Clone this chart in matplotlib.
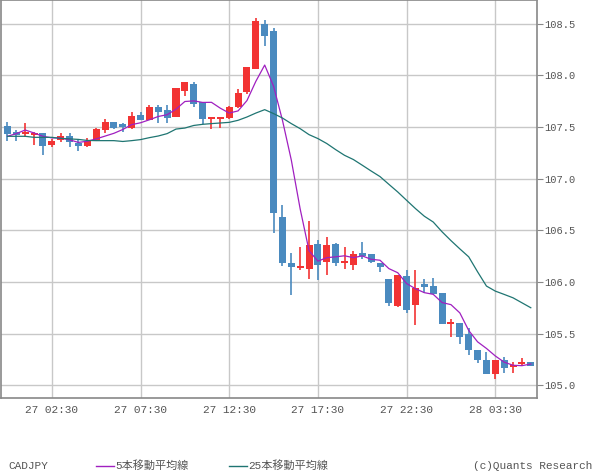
import matplotlib.pyplot as plt
from matplotlib.lines import Line2D
import numpy as np

plt.rcParams['font.family'] = ['Liberation Mono', 'Noto Sans CJK JP', 'DejaVu Sans']

# 30分足 CADJPY 27 00:00 - 28 05:30
opens = [107.507, 107.45, 107.435, 107.42, 107.44, 107.323, 107.37, 107.41, 107.345, 107.316,
         107.371, 107.468, 107.545, 107.526, 107.487, 107.613, 107.565, 107.69, 107.66, 107.594,
         107.848, 107.913, 107.746, 107.58, 107.58, 107.584, 107.694, 107.838, 108.061, 108.493,
         108.425, 106.627, 106.182, 106.132, 106.127, 106.366, 106.195, 106.366, 106.18, 106.166,
         106.278, 106.268, 106.18, 106.027, 105.765, 106.056, 105.775, 105.98, 105.96, 105.892,
         105.59, 105.60, 105.50, 105.343, 105.246, 105.11, 105.246, 105.18, 105.21, 105.224]
highs = [107.545, 107.468, 107.535, 107.45, 107.44, 107.38, 107.44, 107.44, 107.371, 107.39,
         107.487, 107.574, 107.545, 107.535, 107.642, 107.642, 107.71, 107.71, 107.71, 107.874,
         107.932, 107.932, 107.746, 107.60, 107.60, 107.707, 107.865, 108.077, 108.551, 108.54,
         108.462, 106.743, 106.279, 106.336, 106.588, 106.404, 106.433, 106.375, 106.337, 106.30,
         106.385, 106.268, 106.18, 106.027, 106.066, 106.114, 106.12, 106.027, 106.037, 105.892,
         105.64, 105.60, 105.556, 105.343, 105.324, 105.246, 105.275, 105.227, 105.265, 105.224]
lows = [107.365, 107.365, 107.40, 107.33, 107.226, 107.31, 107.355, 107.307, 107.268, 107.307,
        107.365, 107.442, 107.478, 107.452, 107.48, 107.565, 107.565, 107.535, 107.535, 107.594,
        107.80, 107.693, 107.526, 107.48, 107.49, 107.578, 107.684, 107.823, 108.061, 108.283,
        106.469, 106.153, 105.872, 106.114, 106.027, 106.017, 106.07, 106.156, 106.124, 106.117,
        106.22, 106.18, 106.095, 105.765, 105.755, 105.698, 105.58, 105.895, 105.885, 105.595,
        105.469, 105.40, 105.295, 105.217, 105.11, 105.063, 105.12, 105.12, 105.19, 105.19]
closes = [107.432, 107.42, 107.44, 107.44, 107.316, 107.36, 107.41, 107.355, 107.316, 107.368,
          107.478, 107.545, 107.487, 107.504, 107.603, 107.565, 107.69, 107.65, 107.587, 107.874,
          107.932, 107.722, 107.577, 107.59, 107.59, 107.697, 107.826, 108.077, 108.522, 108.38,
          106.668, 106.185, 106.146, 106.153, 106.356, 106.166, 106.356, 106.185, 106.20, 106.27,
          106.249, 106.19, 106.143, 105.795, 106.066, 105.727, 105.94, 105.95, 105.885, 105.595,
          105.61, 105.469, 105.343, 105.246, 105.11, 105.246, 105.17, 105.195, 105.225, 105.19]

ma5 = [107.41, 107.436, 107.471, 107.442, 107.41, 107.395, 107.393, 107.376, 107.351, 107.362,
       107.385, 107.412, 107.439, 107.476, 107.523, 107.541, 107.57, 107.602, 107.619, 107.673,
       107.747, 107.753, 107.738, 107.739, 107.682, 107.635, 107.656, 107.756, 107.942, 108.10,
       107.895, 107.566, 107.18, 106.706, 106.302, 106.201, 106.235, 106.243, 106.253, 106.235,
       106.252, 106.219, 106.21, 106.129, 106.089, 105.984, 105.934, 105.896, 105.88, 105.80,
       105.78, 105.70, 105.53, 105.42, 105.356, 105.283, 105.223, 105.193, 105.189, 105.205]
ma25 = [107.41, 107.41, 107.41, 107.40, 107.40, 107.40, 107.39, 107.385, 107.38, 107.37,
        107.368, 107.368, 107.368, 107.36, 107.368, 107.378, 107.397, 107.413, 107.436, 107.48,
        107.49, 107.515, 107.526, 107.533, 107.539, 107.545, 107.565, 107.597, 107.635, 107.668,
        107.63, 107.587, 107.533, 107.484, 107.426, 107.388, 107.34, 107.281, 107.226, 107.185,
        107.13, 107.074, 107.02, 106.945, 106.871, 106.79, 106.71, 106.636, 106.58, 106.485,
        106.40, 106.32, 106.243, 106.098, 105.96, 105.911, 105.879, 105.846, 105.798, 105.75]

xtick_pos = [5, 15, 25, 35, 45, 55]
xtick_labels = ['27 02:30', '27 07:30', '27 12:30', '27 17:30', '27 22:30', '28 03:30']
yticks = [105.0, 105.5, 106.0, 106.5, 107.0, 107.5, 108.0, 108.5]

up_col = '#f23333'
down_col = '#4a8abf'
ma5_col = '#a020c0'
ma25_col = '#1f7572'
txt_col = '#555555'

fig = plt.figure(figsize=(6, 4.75), dpi=100)
ax = fig.add_axes([1 / 600, 1 - 398 / 475, 536 / 600, 397.5 / 475])

x = np.arange(len(closes))
o = np.array(opens)
c = np.array(closes)
colors = [up_col if cc >= oo else down_col for oo, cc in zip(o, c)]
bottoms = np.minimum(o, c)
heights = np.maximum(np.abs(c - o), 0.015)

ax.vlines(x, lows, highs, colors=colors, linewidth=1.2, zorder=3)
ax.bar(x, heights, bottom=bottoms, width=0.79, color=colors, linewidth=0, zorder=4)

ax.plot(x, ma5, color=ma5_col, linewidth=0.9, zorder=5)
ax.plot(x, ma25, color=ma25_col, linewidth=0.9, zorder=5)

ax.set_xlim(-0.73, 59.7)
ax.set_ylim(104.876, 108.725)
ax.set_xticks(xtick_pos)
ax.set_xticklabels(xtick_labels)
ax.set_yticks(yticks)
ax.set_yticklabels(['%.1f' % v for v in yticks])
ax.yaxis.tick_right()
ax.tick_params(axis='y', length=4, width=0.8, color='#888888', pad=1, labelsize=7.5, labelcolor=txt_col)
ax.tick_params(axis='x', length=0, pad=5, labelsize=8, labelcolor=txt_col)
ax.grid(True, color='#c8c8c8', linewidth=1)
ax.set_axisbelow(True)
for s in ax.spines.values():
    s.set_color('#888888')
    s.set_linewidth(1.2)

# 凡例
ly = 1 - 466 / 475
fig.text(8 / 600, ly, 'CADJPY', fontsize=8, color=txt_col, va='center')
fig.add_artist(Line2D([96 / 600, 114 / 600], [ly, ly], color=ma5_col, linewidth=1))
fig.text(115 / 600, ly, '5本移動平均線', fontsize=8, color=txt_col, va='center')
fig.add_artist(Line2D([229 / 600, 247 / 600], [ly, ly], color=ma25_col, linewidth=1))
fig.text(248 / 600, ly, '25本移動平均線', fontsize=8, color=txt_col, va='center')
fig.text(592 / 600, ly, '(c)Quants Research', fontsize=8, color=txt_col, va='center', ha='right')

fig.savefig('out.png', dpi=100)
